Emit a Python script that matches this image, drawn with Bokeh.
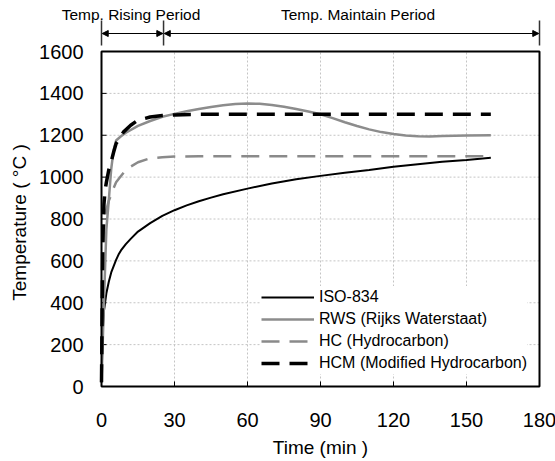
import math
from bokeh.plotting import figure
from bokeh.models import Legend, LegendItem, Arrow, NormalHead
from bokeh.core.properties import value
from bokeh.embed import file_html
from bokeh.resources import INLINE

# ---------------- data ----------------
iso_t = [0, 0.5, 1, 2, 3, 4, 5, 6, 7, 8, 10, 12, 15, 20, 25, 30, 35, 40, 45, 50,
         60, 70, 80, 90, 100, 110, 120, 130, 140, 150, 160]
iso_T = [20, 260, 360, 445, 500, 545, 575, 605, 630, 650, 680, 705, 740, 780, 815, 842,
         865, 885, 902, 918, 945, 970, 990, 1006, 1021, 1034, 1049, 1061, 1073, 1082, 1092]

rws_t = [0, 1, 2, 3, 4, 5, 6, 8, 10, 15, 20, 25, 30, 35, 40, 45, 50, 55, 60, 65, 70, 75,
         80, 85, 90, 95, 100, 105, 110, 115, 120, 125, 130, 135, 140, 150, 160]
rws_T = [20, 400, 750, 890, 1040, 1130, 1175, 1195, 1212, 1245, 1268, 1288, 1302, 1315,
         1325, 1335, 1343, 1349, 1352, 1350, 1345, 1336, 1325, 1313, 1300, 1282, 1262,
         1244, 1228, 1215, 1206, 1199, 1195, 1194, 1196, 1199, 1200]

hc_t = [0, 0.5, 1, 1.5, 2, 3, 4, 5, 6, 8, 10, 12, 15, 20, 25, 30, 40, 60, 90, 120, 160]
hc_T = [20, 480, 740, 810, 845, 887, 915, 948, 975, 1005, 1034, 1050, 1071, 1090, 1095,
        1098, 1100, 1100, 1100, 1100, 1100]

hcm_t = [0, 0.5, 1, 1.5, 2, 3, 4, 5, 6, 9, 12, 15, 20, 25, 30, 40, 60, 90, 120, 160]
hcm_T = [20, 670, 870, 940, 975, 1035, 1075, 1120, 1160, 1215, 1248, 1272, 1287, 1294,
         1297, 1300, 1300, 1300, 1300, 1300]

x_min, x_max = 0, 180
y_min, y_max = 0, 1600
x_ticks = [0, 30, 60, 90, 120, 150, 180]
y_ticks = [0, 200, 400, 600, 800, 1000, 1200, 1400, 1600]
x_tick_labels = [str(v) for v in x_ticks]
y_tick_labels = [str(v) for v in y_ticks]
x_title = "Time (min )"
y_title = "Temperature ( \u00b0C )"

series_names = ["ISO-834", "RWS (Rijks Waterstaat)", "HC (Hydrocarbon)",
                "HCM (Modified Hydrocarbon)"]

period_bounds = [0, 25.5, 180]          # minutes
period_labels = ["Temp. Rising Period", "Temp. Maintain Period"]

FONT = "Liberation Sans"

# ---------------- layout (pixels) ----------------
W, H = 555, 461
PL, PR, PT, PB = 101, 539, 51, 386      # plot box edges on the page
sx = (PR - PL) / (x_max - x_min)        # px per minute
sy = (PB - PT) / (y_max - y_min)        # px per degree


def dx(px):      # page x -> data x
    return x_min + (px - PL) / sx


def dy(py):      # page y -> data y
    return y_min + (PB - py) / sy


p = figure(width=W, height=H, output_backend="svg", toolbar_location=None,
           x_range=(dx(0), dx(W)), y_range=(dy(H), dy(0)),
           x_axis_location=None, y_axis_location=None,
           min_border_left=0, min_border_right=0, min_border_top=0,
           min_border_bottom=0)
p.outline_line_color = None
p.xgrid.visible = False
p.ygrid.visible = False
p.background_fill_color = "white"
p.border_fill_color = "white"

# grid (dotted)
gx = x_ticks[1:-1]
gy = y_ticks[1:-1]
p.segment(x0=gx, x1=gx, y0=[y_min] * len(gx), y1=[y_max] * len(gx),
          line_color="#c4c4c4", line_width=1, line_dash="2 2")
p.segment(x0=[x_min] * len(gy), x1=[x_max] * len(gy), y0=gy, y1=gy,
          line_color="#c4c4c4", line_width=1, line_dash="2 2")

# inside ticks (5 px)
p.segment(x0=gx, x1=gx, y0=[y_min] * len(gx), y1=[y_min + 5 / sy] * len(gx),
          line_color="black", line_width=1)
p.segment(x0=[x_min] * len(gy), x1=[x_min + 5 / sx] * len(gy), y0=gy, y1=gy,
          line_color="black", line_width=1)

# curves
r_iso = p.line(iso_t, iso_T, line_color="black", line_width=2)
r_rws = p.line(rws_t, rws_T, line_color="#8c8c8c", line_width=2.5)
r_hc = p.line(hc_t, hc_T, line_color="#8a8a8a", line_width=2.5, line_dash="18 10")
r_hcm = p.line(hcm_t, hcm_T, line_color="black", line_width=3.5, line_dash="18 10")

# plot box
p.quad(left=[x_min], right=[x_max], bottom=[y_min], top=[y_max],
       fill_color=None, line_color="black", line_width=2)

# tick labels
p.text(x=x_ticks, y=[dy(419.5)] * len(x_ticks), text=x_tick_labels,
       text_align="center", text_baseline="middle", text_font=value(FONT),
       text_font_size="20px", text_color="black")
p.text(x=[dx(83)] * len(y_ticks), y=y_ticks, text=y_tick_labels,
       text_align="right", text_baseline="middle", text_font=value(FONT),
       text_font_size="20px", text_color="black")

# axis titles
p.text(x=[(x_min + x_max) / 2], y=[dy(447)], text=[x_title], text_align="center",
       text_baseline="middle", text_font=value(FONT), text_font_size="19px",
       text_color="black")
p.text(x=[dx(18.5)], y=[dy(222)], text=[y_title], angle=math.pi / 2,
       text_align="center", text_baseline="middle", text_font=value(FONT),
       text_font_size="19px", text_color="black")

# period annotation above the plot
nb = len(period_bounds)
p.segment(x0=period_bounds, x1=period_bounds, y0=[dy(20)] * nb, y1=[dy(45)] * nb,
          line_color="#333333", line_width=1.5)
for a, b in zip(period_bounds[:-1], period_bounds[1:]):
    p.add_layout(Arrow(x_start=a + 0.3, y_start=dy(33), x_end=b - 0.3, y_end=dy(33),
                       line_color="black", line_width=1.2,
                       start=NormalHead(size=6, fill_color="black", line_color="black"),
                       end=NormalHead(size=6, fill_color="black", line_color="black")))
p.text(x=[dx(130.5), dx(357.5)], y=[dy(13.5)] * 2, text=period_labels,
       text_align="center", text_baseline="middle", text_font=value(FONT),
       text_font_size="15.5px", text_color="black")

# legend
legend = Legend(items=[LegendItem(label=n, renderers=[r]) for n, r in
                       zip(series_names, [r_iso, r_rws, r_hc, r_hcm])],
                location=(PL + 160, (H - PB) + 12))
legend.glyph_width = 53
legend.glyph_height = 22
legend.label_height = 22
legend.spacing = 0
legend.padding = 8
legend.margin = 0
legend.label_standoff = 5
legend.label_text_font = FONT
legend.label_text_font_size = "16px"
legend.label_text_color = "black"
legend.border_line_color = None
legend.background_fill_color = "white"
legend.background_fill_alpha = 1.0
p.add_layout(legend, "center")

open("out.html", "w").write(file_html(p, INLINE))
